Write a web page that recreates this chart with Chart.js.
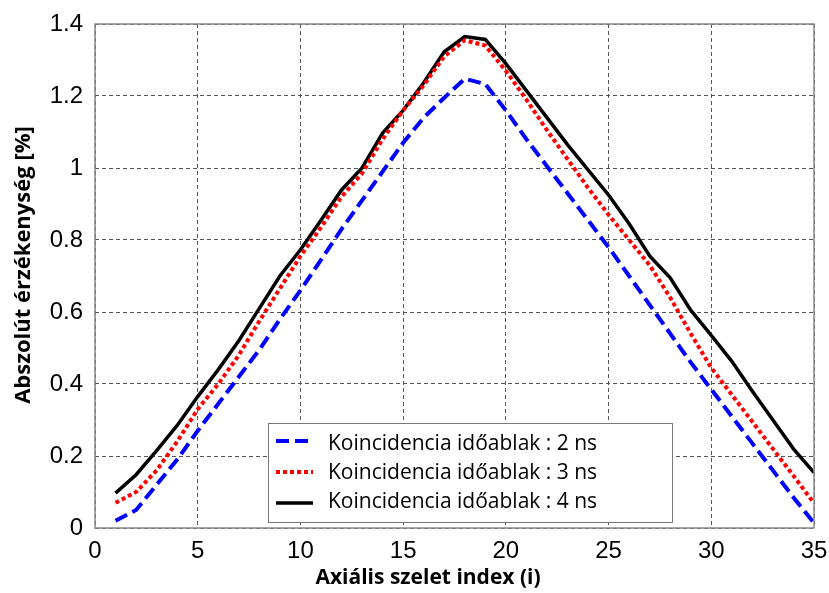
<!DOCTYPE html>
<html lang="hu">
<head>
    <meta charset="UTF-8">
    <title>Abszolút érzékenység</title>
    <script src="https://cdn.jsdelivr.net/npm/chart.js@4.4.0/dist/chart.umd.min.js"></script>
    <style>
        html, body { margin: 0; padding: 0; background: #fff; }
        #wrap { width: 829px; height: 593px; }
    </style>
</head>
<body>
    <div id="wrap"><canvas id="myChart" width="829" height="593"></canvas></div>
    <script>
        // axial slice index
        var slices = [];
        for (var i = 1; i <= 35; i++) slices.push(i);

        var series2ns = [0.02, 0.05, 0.12, 0.19, 0.27, 0.345, 0.42, 0.495, 0.58, 0.66,
            0.745, 0.83, 0.91, 0.99, 1.07, 1.14, 1.195, 1.248, 1.233, 1.16,
            1.08, 1.005, 0.93, 0.855, 0.78, 0.70, 0.62, 0.54, 0.46, 0.385,
            0.31, 0.235, 0.16, 0.085, 0.014];
        var series3ns = [0.07, 0.10, 0.16, 0.24, 0.33, 0.40, 0.48, 0.575, 0.665, 0.755,
            0.835, 0.92, 0.985, 1.08, 1.16, 1.23, 1.31, 1.355, 1.34, 1.27,
            1.19, 1.105, 1.025, 0.945, 0.87, 0.80, 0.73, 0.64, 0.54, 0.445,
            0.37, 0.295, 0.22, 0.145, 0.069];
        var series4ns = [0.097, 0.148, 0.215, 0.285, 0.365, 0.44, 0.52, 0.61, 0.70, 0.773,
            0.855, 0.939, 1.0, 1.097, 1.16, 1.237, 1.323, 1.365, 1.357, 1.29,
            1.215, 1.14, 1.065, 0.995, 0.925, 0.845, 0.756, 0.695, 0.605, 0.535,
            0.463, 0.38, 0.30, 0.22, 0.154];
        var seriesLabels = ['Koincidencia időablak : 2 ns', 'Koincidencia időablak : 3 ns', 'Koincidencia időablak : 4 ns'];
        var xTicks = [0, 5, 10, 15, 20, 25, 30, 35];
        var yTicks = [0, 0.2, 0.4, 0.6, 0.8, 1, 1.2, 1.4];
        var xTitle = 'Axiális szelet index (i)';
        var yTitle = 'Abszolút érzékenység [%]';

        function pts(arr) {
            return arr.map(function (v, k) { return { x: slices[k], y: v }; });
        }

        // frame around plot, axis titles (both off-centre in the original), legend box
        var framePlugin = {
            id: 'frame',
            afterDraw: function (chart) {
                var c = chart.ctx, a = chart.chartArea;
                c.save();
                c.strokeStyle = '#888';
                c.lineWidth = 1.5;
                c.strokeRect(a.left, a.top, a.right - a.left, a.bottom - a.top);

                c.font = 'bold 21px "Open Sans"';
                c.fillStyle = '#000';
                c.textAlign = 'center';
                c.textBaseline = 'middle';
                c.fillText(xTitle, 428, 578);

                c.save();
                c.translate(24, 265);
                c.rotate(-Math.PI / 2);
                c.font = 'bold 22px "Open Sans"';
                c.fillText(yTitle, 0, 0);
                c.restore();

                // legend
                var bx = 268, by = 423, bw = 404, bh = 99;
                c.fillStyle = '#fff';
                c.fillRect(bx, by, bw, bh);
                c.strokeStyle = '#777';
                c.lineWidth = 1;
                c.strokeRect(bx + 0.5, by + 0.5, bw, bh);
                c.font = '21px "Open Sans"';
                c.textAlign = 'left';
                c.textBaseline = 'middle';
                var lineRows = [441, 472, 503];
                var textRows = [444, 473, 502];
                chart.data.datasets.forEach(function (ds, k) {
                    c.strokeStyle = ds.borderColor;
                    c.lineWidth = ds.borderWidth;
                    c.setLineDash(ds.borderDash || []);
                    c.beginPath();
                    c.moveTo(276, lineRows[k]);
                    c.lineTo(313, lineRows[k]);
                    c.stroke();
                    c.setLineDash([]);
                    c.fillStyle = '#000';
                    c.fillText(ds.label, 328, textRows[k]);
                });
                c.restore();
            }
        };

        var ctx = document.getElementById('myChart').getContext('2d');
        var myChart = new Chart(ctx, {
            type: 'line',
            data: {
                datasets: [
                    { label: seriesLabels[0], data: pts(series2ns), borderColor: '#0000ff', borderWidth: 4, borderDash: [13, 6], pointRadius: 0, fill: false },
                    { label: seriesLabels[1], data: pts(series3ns), borderColor: '#ff0000', borderWidth: 4, borderDash: [4, 3], pointRadius: 0, fill: false },
                    { label: seriesLabels[2], data: pts(series4ns), borderColor: '#000000', borderWidth: 3.5, pointRadius: 0, fill: false }
                ]
            },
            options: {
                responsive: false,
                animation: false,
                layout: { padding: { top: 24, right: 15, left: 0, bottom: 0 } },
                plugins: {
                    legend: { display: false },
                    tooltip: { enabled: false }
                },
                scales: {
                    x: {
                        type: 'linear',
                        min: 0, max: 35,
                        afterBuildTicks: function (s) { s.ticks = xTicks.map(function (v) { return { value: v }; }); },
                        afterFit: function (s) { s.height = 65; s.paddingLeft = 0; s.paddingRight = 0; },
                        grid: { color: '#555', lineWidth: 1, drawTicks: false },
                        border: { display: false, dash: [4, 3] },
                        ticks: { padding: 9, color: '#000', font: { family: '"Liberation Sans", Arial', size: 24 }, maxRotation: 0 },
                        title: { display: false }
                    },
                    y: {
                        min: 0, max: 1.4,
                        afterBuildTicks: function (s) { s.ticks = yTicks.map(function (v) { return { value: v }; }); },
                        afterFit: function (s) { s.width = 95; s.paddingTop = 0; s.paddingBottom = 0; },
                        grid: { color: '#555', lineWidth: 1, drawTicks: false },
                        border: { display: false, dash: [4, 3] },
                        ticks: {
                            padding: 12, color: '#000', font: { family: '"Liberation Sans", Arial', size: 24 },
                            callback: function (v) { return String(+v.toFixed(1)); }
                        },
                        title: { display: false }
                    }
                }
            },
            plugins: [framePlugin]
        });
    </script>
</body>
</html>
